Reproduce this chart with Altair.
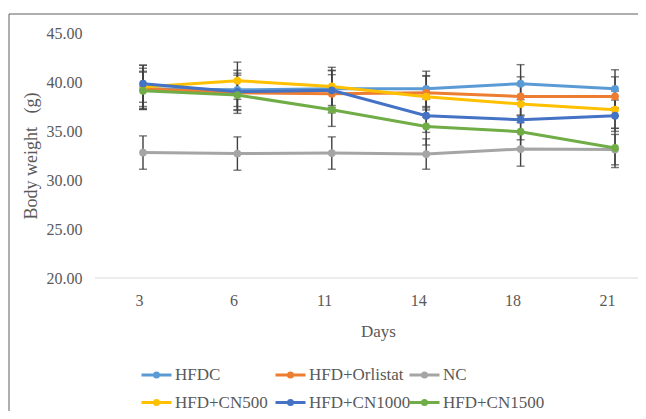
import altair as alt
import pandas as pd

days = ["3", "6", "11", "14", "18", "21"]
groups = ["HFDC", "HFD+Orlistat", "NC", "HFD+CN500", "HFD+CN1000", "HFD+CN1500"]
colors = ["#5B9BD5", "#ED7D31", "#A5A5A5", "#FFC000", "#4472C4", "#70AD47"]

hfdc = [39.3, 39.2, 39.3, 39.3, 39.83, 39.3]
orlistat = [39.3, 38.9, 38.8, 38.9, 38.53, 38.53]
nc = [32.8, 32.7, 32.75, 32.65, 33.16, 33.1]
cn500 = [39.5, 40.13, 39.55, 38.5, 37.75, 37.17]
cn1000 = [39.83, 39.0, 39.15, 36.56, 36.15, 36.56]
cn1500 = [39.1, 38.67, 37.17, 35.47, 34.93, 33.27]

err_hfdc = [1.8, 1.7, 1.9, 1.8, 1.94, 1.95]
err_orlistat = [2.1, 1.8, 1.95, 1.75, 2.0, 2.0]
err_nc = [1.7, 1.7, 1.65, 1.55, 1.75, 1.55]
err_cn500 = [2.2, 1.9, 1.95, 2.1, 1.9, 1.9]
err_cn1000 = [1.9, 2.2, 2.0, 1.7, 2.05, 1.6]
err_cn1500 = [1.9, 1.5, 1.7, 1.9, 1.7, 2.0]

series = [hfdc, orlistat, nc, cn500, cn1000, cn1500]
errs = [err_hfdc, err_orlistat, err_nc, err_cn500, err_cn1000, err_cn1500]

rows = []
for g, vals, es in zip(groups, series, errs):
    for d, v, e in zip(days, vals, es):
        rows.append({"group": g, "day": d, "weight": v, "lo": v - e, "hi": v + e})
df = pd.DataFrame(rows)

FONT = "Liberation Serif"
LBL = "#595959"

xscale = alt.Scale(type="point", domain=days, range=[48, 520], padding=0)
yscale = alt.Scale(domain=[20, 45], nice=False, zero=False)

sym_path = "M-2,0H2M0.27,0A0.27,0.27,0,1,1,-0.27,0A0.27,0.27,0,1,1,0.27,0Z"

color = alt.Color(
    "group:N",
    scale=alt.Scale(domain=groups, range=colors),
    legend=alt.Legend(
        title=None, orient="none", legendX=52.5, legendY=332.5, columns=3,
        symbolType=sym_path, symbolSize=225, symbolStrokeWidth=3,
        labelOffset=9.5, columnPadding=-7, rowPadding=10,
        direction="horizontal", gridAlign="all",
    ),
)

base = alt.Chart(df)

x_enc = alt.X(
    "day:O", scale=xscale, sort=days, title="Days",
    axis=alt.Axis(domain=False, ticks=False, labelAngle=0, labelPadding=22,
                  labelFontSize=16, titleFontSize=17,
                  titlePadding=15, titleX=283, grid=False),
)
y_enc = alt.Y(
    "weight:Q", scale=yscale, title="Body weight\u00a0\u00a0\u00a0(g)",
    axis=alt.Axis(values=[20, 25, 30, 35, 40, 45], format=".2f", domain=False,
                  ticks=False, grid=False, labelPadding=13,
                  labelFontSize=16, titleFontSize=18, titlePadding=6),
)

frame = alt.Chart(pd.DataFrame({"a": [0]})).mark_rect(
    fill=None, stroke="#5f5f5f", strokeWidth=1
).encode(x=alt.value(-86), x2=alt.value(700), y=alt.value(-19), y2=alt.value(500))

baseline = alt.Chart(pd.DataFrame({"a": [0]})).mark_rule(
    color="#D9D9D9", strokeWidth=1
).encode(x=alt.value(0), x2=alt.value(700), y=alt.value(245))

ebar = base.mark_rule(color="#404040", strokeWidth=1.4).encode(
    x=alt.X("day:O", scale=xscale, sort=days),
    y=alt.Y("lo:Q", scale=yscale),
    y2="hi:Q",
)
cap_lo = base.mark_tick(color="#404040", thickness=1.4, size=8, orient="horizontal").encode(
    x=alt.X("day:O", scale=xscale, sort=days), y=alt.Y("lo:Q", scale=yscale)
)
cap_hi = base.mark_tick(color="#404040", thickness=1.4, size=8, orient="horizontal").encode(
    x=alt.X("day:O", scale=xscale, sort=days), y=alt.Y("hi:Q", scale=yscale)
)

lines = base.mark_line(strokeWidth=3).encode(x=x_enc, y=y_enc, color=color, detail="group:N")
points = base.mark_point(filled=True, size=60, opacity=1).encode(
    x=alt.X("day:O", scale=xscale, sort=days), y=alt.Y("weight:Q", scale=yscale), color=color
)

chart = alt.layer(frame, baseline, ebar, cap_lo, cap_hi, lines, points).properties(
    width=543, height=245,
    autosize=alt.AutoSizeParams(type="none"),
    padding={"left": 87, "top": 25, "right": 0, "bottom": 133},
).configure(font=FONT).configure_view(stroke=None).configure_axis(
    labelFont=FONT, titleFont=FONT, labelColor=LBL, titleColor=LBL,
    titleFontWeight="normal",
).configure_legend(
    labelFont=FONT, labelFontSize=17, labelColor=LBL,
)

chart.save("out.html", embed_options={"renderer": "svg", "actions": False})
